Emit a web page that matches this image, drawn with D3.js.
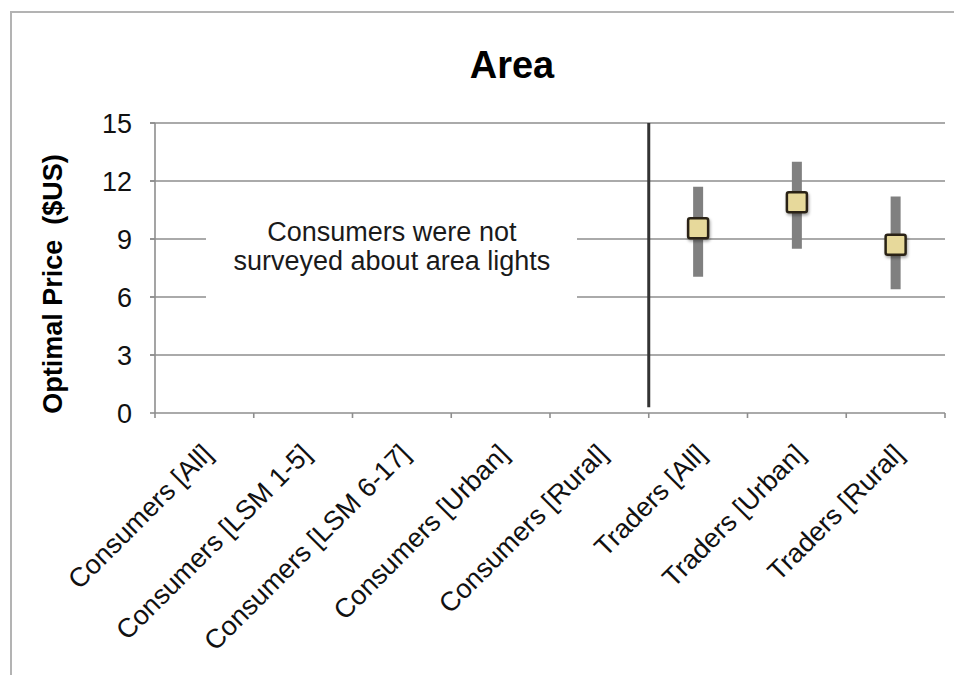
<!DOCTYPE html>
<html>
<head>
<meta charset="utf-8">
<script src="https://cdn.jsdelivr.net/npm/d3@7"></script>
<style>
  html, body { margin: 0; padding: 0; background: #fff; }
  svg { display: block; font-family: "Liberation Sans", Arial, Helvetica, sans-serif; }
</style>
</head>
<body>
<svg id="chart" width="954" height="675"></svg>
<script>
// ---- data ----
const categories = ["Consumers [All]", "Consumers [LSM 1-5]", "Consumers [LSM 6-17]", "Consumers [Urban]", "Consumers [Rural]", "Traders [All]", "Traders [Urban]", "Traders [Rural]"];
const optimalPrice = [null, null, null, null, null, 9.55, 10.9, 8.7];
const lowPrice     = [null, null, null, null, null, 7.05, 8.5, 6.4];
const highPrice    = [null, null, null, null, null, 11.7, 13.0, 11.2];
const yTicks = [0, 3, 6, 9, 12, 15];
const title = "Area";
const yLabel = "Optimal Price  ($US)";
const noteLines = ["Consumers were not", "surveyed about area lights"];

const svg = d3.select("#chart");
const W = 954, H = 675;
const m = { left: 155, right: 9, top: 123, bottom: 262 };

// outer frame
svg.append("rect")
  .attr("x", 11).attr("y", 12).attr("width", W).attr("height", H)
  .attr("fill", "#fff").attr("stroke", "#b3b3b3").attr("stroke-width", 2);

const x = d3.scaleBand().domain(categories).range([m.left, W - m.right]).padding(0);
const y = d3.scaleLinear().domain([0, 15]).range([H - m.bottom, m.top]);

// gridlines
svg.append("g").selectAll("line").data(yTicks.filter(d => d > 0)).join("line")
  .attr("x1", m.left - 5).attr("x2", W - m.right)
  .attr("y1", d => y(d)).attr("y2", d => y(d))
  .attr("stroke", "#8e8e8e").attr("stroke-width", 1.6);

// y axis line + ticks
svg.append("line").attr("x1", m.left).attr("x2", m.left)
  .attr("y1", y(15)).attr("y2", y(0)).attr("stroke", "#8e8e8e").attr("stroke-width", 1.6);
svg.append("g").selectAll("line").data(yTicks).join("line")
  .attr("x1", m.left - 5).attr("x2", m.left).attr("y1", d => y(d)).attr("y2", d => y(d))
  .attr("stroke", "#8e8e8e").attr("stroke-width", 1.6);

// y tick labels
svg.append("g").selectAll("text").data(yTicks).join("text")
  .attr("x", m.left - 23).attr("y", d => y(d)).attr("dy", "0.36em")
  .attr("text-anchor", "end").attr("font-size", 27).attr("fill", "#111")
  .text(d => d);

// x axis line + ticks at category boundaries
svg.append("line").attr("x1", m.left).attr("x2", W - m.right)
  .attr("y1", y(0)).attr("y2", y(0)).attr("stroke", "#8e8e8e").attr("stroke-width", 1.6);
const bounds = categories.map(c => x(c)).concat([x(categories[categories.length - 1]) + x.bandwidth()]);
svg.append("g").selectAll("line").data(bounds).join("line")
  .attr("x1", d => d).attr("x2", d => d).attr("y1", y(0)).attr("y2", y(0) + 5)
  .attr("stroke", "#8e8e8e").attr("stroke-width", 1.6);

// x labels rotated
svg.append("g").selectAll("text").data(categories).join("text")
  .attr("transform", d => `translate(${x(d) + x.bandwidth() / 2 + 3},${y(0) + 36}) rotate(-45)`)
  .attr("text-anchor", "end").attr("dy", "0.35em")
  .attr("font-size", 27).attr("fill", "#111")
  .text(d => d);

// note box covering gridlines
const noteCx = (x(categories[0]) + x(categories[4]) + x.bandwidth()) / 2;
svg.append("rect")
  .attr("x", 206).attr("y", y(9) - 38).attr("width", 371).attr("height", 106)
  .attr("fill", "#fff");
svg.append("g").selectAll("text").data(noteLines).join("text")
  .attr("x", noteCx - 10).attr("y", (d, i) => y(9) + 2 + i * 29)
  .attr("text-anchor", "middle").attr("font-size", 27).attr("fill", "#1a1a1a")
  .text(d => d);

// divider between consumers and traders
svg.append("line")
  .attr("x1", x(categories[5])).attr("x2", x(categories[5]))
  .attr("y1", y(15)).attr("y2", y(0.3))
  .attr("stroke", "#333").attr("stroke-width", 3);

// error bars + markers
const pts = categories.map((c, i) => ({ c, v: optimalPrice[i], lo: lowPrice[i], hi: highPrice[i] })).filter(d => d.v != null);
svg.append("g").selectAll("line").data(pts).join("line")
  .attr("x1", d => x(d.c) + x.bandwidth() / 2).attr("x2", d => x(d.c) + x.bandwidth() / 2)
  .attr("y1", d => y(d.lo)).attr("y2", d => y(d.hi))
  .attr("stroke", "#808080").attr("stroke-width", 10);

const defs = svg.append("defs");
const f = defs.append("filter").attr("id", "sh").attr("x", "-50%").attr("y", "-50%").attr("width", "200%").attr("height", "200%");
f.append("feDropShadow").attr("dx", 1).attr("dy", 2).attr("stdDeviation", 1.5).attr("flood-color", "#000").attr("flood-opacity", 0.35);

const s = 20;
svg.append("g").selectAll("rect").data(pts).join("rect")
  .attr("x", d => x(d.c) + x.bandwidth() / 2 - s / 2)
  .attr("y", d => y(d.v) - s / 2)
  .attr("width", s).attr("height", s).attr("rx", 2)
  .attr("fill", "#e7d99b").attr("stroke", "#2a2415").attr("stroke-width", 2.5)
  .attr("filter", "url(#sh)");

// title
svg.append("text").attr("x", 512).attr("y", 78)
  .attr("text-anchor", "middle").attr("font-size", 38).attr("font-weight", "bold").attr("fill", "#000")
  .text(title);

// y label
svg.append("text")
  .attr("transform", `translate(62,${(y(0) + y(15)) / 2 + 16}) rotate(-90)`)
  .attr("text-anchor", "middle").attr("font-size", 27).attr("font-weight", "bold").attr("fill", "#000")
  .style("white-space", "pre")
  .text(yLabel);
</script>
</body>
</html>
